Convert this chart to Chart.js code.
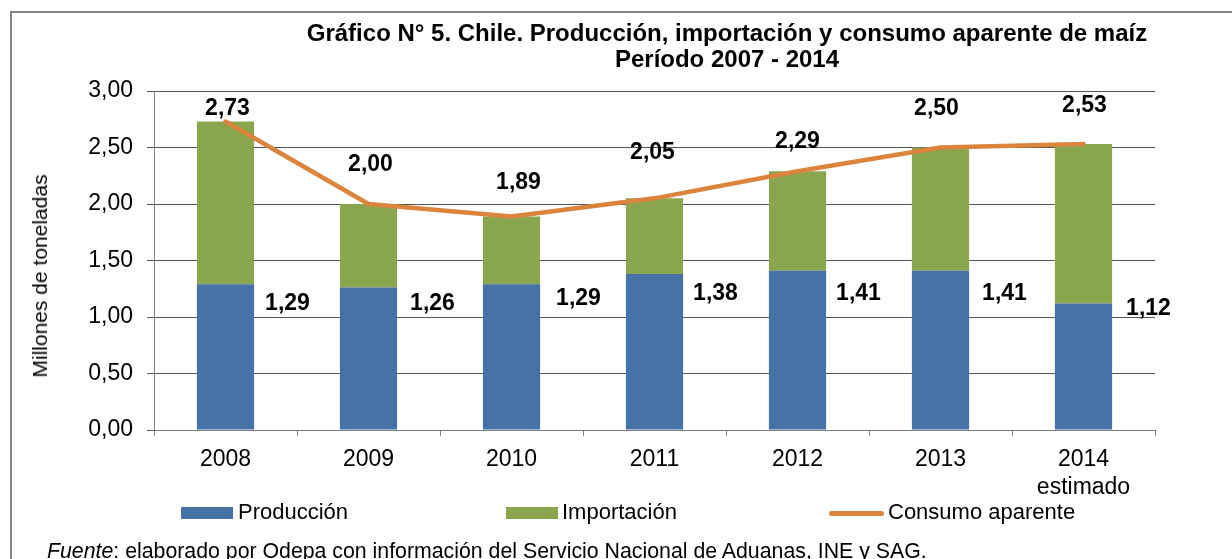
<!DOCTYPE html>
<html>
<head>
<meta charset="utf-8">
<script src="https://cdn.jsdelivr.net/npm/chart.js@4"></script>
<style>
  body { margin: 0; background: #fff; }
  #wrap { position: relative; width: 1232px; height: 559px; overflow: hidden; background: #fff;
          font-family: "Liberation Sans", Arial, sans-serif; color: #000; }
  #frame { position: absolute; left: 10px; top: 11px; width: 1240px; height: 600px;
           border-left: 2px solid #868686; border-top: 2px solid #868686; }
  #myChart { position: absolute; left: 0; top: 0; }
  .title { position: absolute; left: 0; width: 1454px; text-align: center; font-weight: bold; font-size: 24px; }
  #ytitle { position: absolute; left: 40px; top: 276px; font-size: 21px; white-space: nowrap;
            transform: translate(-50%, -50%) rotate(-90deg); }
  .leg { position: absolute; font-size: 22px; white-space: nowrap; top: 499px; }
  .sw { position: absolute; }
  #foot { position: absolute; left: 47px; top: 539px; font-size: 21.3px; white-space: nowrap; }
</style>
</head>
<body>
<div id="wrap">
  <div id="frame"></div>
  <canvas id="myChart" width="1232" height="559"></canvas>
  <div class="title" style="top:19px">Gráfico N° 5. Chile. Producción, importación y consumo aparente de maíz</div>
  <div class="title" style="top:45px">Período 2007 - 2014</div>
  <div id="ytitle">Millones de toneladas</div>

  <div class="sw" style="left:181px; top:507px; width:52px; height:12px; background:#4572A7"></div>
  <div class="leg" style="left:238px">Producción</div>
  <div class="sw" style="left:506px; top:507px; width:52px; height:12px; background:#89A54E"></div>
  <div class="leg" style="left:562px">Importación</div>
  <div class="sw" style="left:829px; top:511px; width:55px; height:5px; border-radius:3px; background:#DB843D"></div>
  <div class="leg" style="left:888px">Consumo aparente</div>

  <div id="foot"><i>Fuente</i>: elaborado por Odepa con información del Servicio Nacional de Aduanas, INE y SAG.</div>
</div>
<script>
	// values in millions of tonnes
	var years = [['2008'], ['2009'], ['2010'], ['2011'], ['2012'], ['2013'], ['2014', 'estimado']];
	var produccion = [1.29, 1.26, 1.29, 1.38, 1.41, 1.41, 1.12];
	var importacion = [1.44, 0.74, 0.60, 0.67, 0.88, 1.09, 1.41];
	var consumo = [2.73, 2.00, 1.89, 2.05, 2.29, 2.50, 2.53];

	// where the value labels sit, relative to their mark (px)
	var consumoLift = [13, 39, 34, 46, 30, 39, 38];
	var consumoDx = [2, 2, 7, -2, 0, -4, 1];
	var prodDrop = [19, 16, 14, 20, 23, 23, 5];
	var prodDx = [62, 64, 67, 61, 61, 64, 65];

	function fmt(v) {
		return v.toFixed(2).replace('.', ',');
	}

	var valueLabels = {
		id: 'valueLabels',
		afterDatasetsDraw: function(chart) {
			var ctx = chart.ctx;
			var x = chart.scales.x;
			var y = chart.scales.y;
			ctx.save();
			ctx.font = 'bold 23px "Liberation Sans", Arial, sans-serif';
			ctx.fillStyle = '#000';
			ctx.textAlign = 'center';
			ctx.textBaseline = 'middle';
			for (var i = 0; i < consumo.length; i++) {
				var cx = x.getPixelForValue(i);
				ctx.fillText(fmt(consumo[i]), cx + consumoDx[i], y.getPixelForValue(consumo[i]) - consumoLift[i]);
				ctx.fillText(fmt(produccion[i]), cx + prodDx[i], y.getPixelForValue(produccion[i]) + prodDrop[i]);
			}
			ctx.restore();
		}
	};

	var ctx = document.getElementById('myChart').getContext('2d');
	var chart = new Chart(ctx, {
		type: 'bar',
		data: {
			labels: years,
			datasets: [{
				type: 'line',
				label: 'Consumo aparente',
				data: consumo,
				stack: 'total',
				borderColor: '#DB843D',
				borderWidth: 4.5,
				borderCapStyle: 'round',
				borderJoinStyle: 'round',
				pointRadius: 0,
				tension: 0,
				order: 0
			}, {
				label: 'Producción',
				data: produccion,
				stack: 'bars',
				backgroundColor: '#4572A7',
				order: 1
			}, {
				label: 'Importación',
				data: importacion,
				stack: 'bars',
				backgroundColor: '#89A54E',
				order: 1
			}]
		},
		options: {
			responsive: false,
			animation: false,
			devicePixelRatio: 1,
			categoryPercentage: 1,
			barPercentage: 0.4,
			layout: { padding: { left: 0, right: 77, top: 91, bottom: 0 } },
			plugins: {
				legend: { display: false },
				title: { display: false },
				tooltip: { enabled: false }
			},
			scales: {
				x: {
					stacked: true,
					afterFit: function(s) { s.height = 129; },
					grid: { drawOnChartArea: false, drawTicks: true, tickLength: 6, color: '#7f7f7f', offset: true },
					border: { color: '#7f7f7f', width: 1 },
					ticks: { color: '#000', padding: 10, font: { family: '"Liberation Sans", Arial, sans-serif', size: 23 } }
				},
				y: {
					stacked: true,
					min: 0,
					max: 3,
					afterFit: function(s) { s.width = 154; },
					grid: { color: '#555', tickLength: 7 },
					border: { color: '#7f7f7f', width: 1 },
					ticks: {
						stepSize: 0.5,
						padding: 14,
						color: '#000',
						font: { family: '"Liberation Sans", Arial, sans-serif', size: 23 },
						callback: function(v) { return fmt(v); }
					}
				}
			}
		},
		plugins: [valueLabels]
	});
</script>
</body>
</html>
